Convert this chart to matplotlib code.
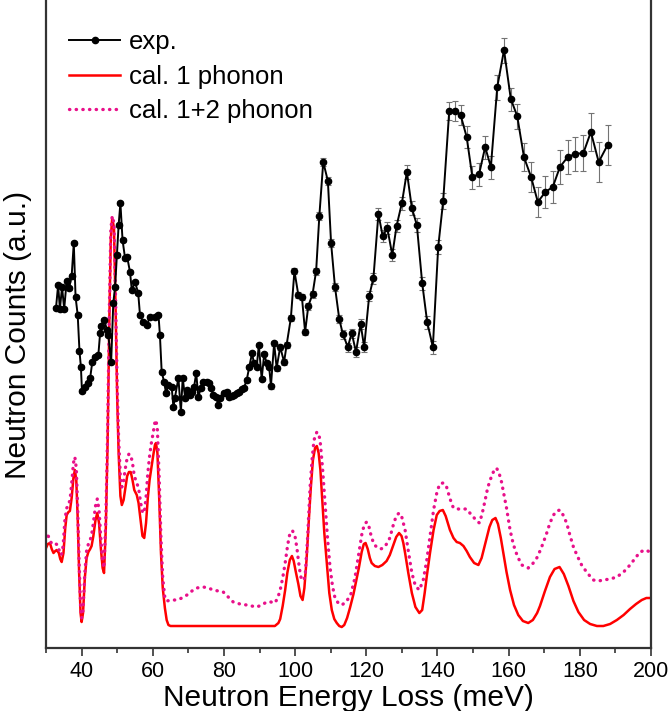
import numpy as np
import matplotlib.pyplot as plt
from matplotlib.ticker import MultipleLocator
from matplotlib.lines import Line2D

plt.rcParams['font.family'] = ['Liberation Sans', 'DejaVu Sans']

### experimental data (energy in meV, counts in a.u.)
exp_E = [32.8, 33.4, 33.9, 34.5, 35.1, 35.8, 36.5, 37.2, 37.8, 38.3,
         38.9, 39.4, 39.8, 40.1, 41.0, 41.7, 42.4, 43.0, 43.8, 44.7,
         45.2, 45.5, 46.4, 47.1, 47.5, 48.3, 48.9, 49.4, 49.9, 50.4,
         50.9, 51.5, 52.2, 52.8, 53.6, 54.1, 55.0, 55.9, 56.4, 57.3,
         58.3, 59.2, 60.6, 61.6, 62.0, 62.5, 63.2, 63.7, 64.4, 65.3,
         65.8, 66.2, 67.2, 67.9, 68.4, 69.1, 69.7, 70.5, 71.1, 71.6,
         72.2, 72.8, 73.5, 74.2, 75.2, 75.8, 76.4, 77.0, 77.8, 78.4,
         78.9, 80.0, 80.8, 81.5, 82.2, 82.8, 83.6, 84.3, 85.0, 85.6,
         86.4, 87.1, 87.9, 88.4, 89.2, 89.8, 90.6, 91.3, 92.0, 92.7,
         93.2, 94.1, 94.8, 95.8, 96.9, 97.6, 98.8, 99.8, 100.9, 101.9,
         102.8, 103.7, 104.9, 105.9, 106.8, 107.9, 109.2, 110.1, 111.2, 112.4,
         113.4, 114.8, 115.9, 117.1, 118.4, 119.4, 120.8, 122.0, 123.4, 124.6,
         125.9, 127.3, 128.5, 130.0, 131.4, 132.8, 134.2, 135.7, 137.1, 138.7,
         140.2, 141.6, 143.3, 144.9, 146.5, 148.2, 149.8, 151.7, 153.4, 155.0,
         156.8, 158.7, 160.6, 162.4, 164.3, 166.3, 168.2, 170.3, 172.4, 174.4,
         176.6, 178.7, 181.0, 183.1, 185.3, 187.8]
exp_y = [340, 363, 339, 361, 339, 367, 360, 372, 405, 351,
         333, 297, 281, 257, 261, 265, 270, 286, 291, 293,
         315, 322, 328, 318, 313, 286, 345, 361, 393, 423,
         445, 408, 390, 391, 376, 358, 366, 355, 333, 326,
         323, 331, 331, 333, 313, 276, 266, 255, 263, 261,
         241, 250, 270, 236, 270, 250, 258, 253, 256, 261,
         275, 251, 260, 266, 266, 265, 260, 253, 251, 243,
         250, 255, 256, 251, 252, 253, 255, 256, 259, 260,
         268, 281, 295, 285, 281, 303, 269, 294, 285, 281,
         262, 305, 280, 301, 286, 303, 330, 377, 353, 351,
         316, 342, 354, 377, 432, 486, 467, 405, 361, 329,
         314, 301, 315, 296, 324, 301, 352, 370, 434, 412,
         420, 393, 422, 445, 476, 440, 423, 365, 326, 301,
         401, 447, 537, 537, 533, 511, 471, 474, 501, 481,
         561, 598, 549, 532, 491, 471, 446, 456, 461, 481,
         491, 494, 495, 516, 486, 503]
exp_err = [2, 2, 2, 2, 2, 2, 2, 2, 2, 2,
           2, 2, 2, 2, 2, 2, 2, 2, 2, 2,
           2, 2, 2, 2, 2, 2, 2, 2, 2, 2,
           2, 2, 2, 2, 2, 2, 2, 2, 2, 2,
           2, 2, 2, 2, 2, 2, 2, 2, 2, 2,
           2, 2, 2, 2, 2, 2, 2, 2, 2, 2,
           2, 2, 2, 2, 2, 2, 2, 2, 2, 2,
           2, 2, 2, 2, 2, 2, 2, 2, 2, 2,
           2, 2, 2, 2, 2, 2, 2, 2, 2, 2,
           2.5, 2.5, 2.5, 2.5, 3, 3, 3, 3, 3, 3,
           3, 3.5, 3.5, 3.5, 4, 4, 4, 4, 4, 4,
           4.5, 4.5, 4.5, 5, 5, 5, 5, 5.5, 6, 6,
           6, 6, 6, 6.5, 7, 7, 7, 6.5, 6.5, 6.5,
           7, 8, 9, 10, 10, 11, 11.5, 11.5, 11.5, 11.5,
           12.5, 12.5, 11.5, 12.5, 14, 15, 15, 16, 16, 17,
           17, 17, 18, 19, 20, 20]

### calculated, 1 phonon
cal1_E = [30.0, 30.5, 31.1, 31.6, 32.1, 32.6, 33.0, 33.6, 34.0, 34.4,
          34.9, 35.4, 35.8, 36.3, 36.7, 37.2, 37.7, 38.1, 38.5, 38.9,
          39.3, 39.7, 40.0, 40.4, 40.9, 41.4, 41.9, 42.4, 42.8, 43.3,
          43.9, 44.4, 44.9, 45.4, 45.9, 46.3, 46.8, 47.3, 47.8, 48.2,
          48.6, 49.1, 49.6, 50.0, 50.4, 50.9, 51.3, 51.8, 52.3, 52.8,
          53.3, 53.8, 54.3, 54.8, 55.5, 56.0, 56.6, 57.1, 57.6, 58.1,
          58.6, 59.1, 59.6, 60.1, 60.6, 60.9, 61.3, 61.8, 62.3, 62.8,
          63.4, 63.9, 64.4, 65.0, 94.3, 95.3, 95.8, 96.5, 97.2, 97.8,
          98.5, 99.1, 99.6, 100.2, 100.9, 101.5, 102.1, 102.6, 103.2, 103.8,
          104.4, 105.0, 105.6, 106.1, 106.6, 107.1, 107.6, 108.2, 108.9, 109.6,
          110.3, 111.0, 111.7, 112.4, 113.1, 113.8, 114.6, 115.4, 116.4, 117.2,
          117.9, 118.7, 119.3, 119.8, 120.4, 121.0, 121.5, 122.4, 123.4, 124.5,
          125.7, 126.6, 127.6, 128.4, 129.2, 129.9, 130.4, 130.9, 131.8, 132.8,
          133.8, 134.9, 135.7, 136.4, 137.0, 137.9, 138.9, 139.8, 140.6, 141.5,
          142.3, 143.0, 143.5, 144.5, 145.4, 146.3, 147.3, 148.2, 149.1, 150.3,
          151.5, 152.4, 153.1, 153.8, 154.6, 155.4, 156.3, 157.0, 157.8, 158.5,
          159.4, 160.4, 161.5, 162.7, 164.0, 165.5, 166.8, 168.0, 168.8, 170.2,
          171.6, 172.9, 174.3, 175.5, 176.8, 178.2, 179.6, 181.2, 182.9, 184.8,
          186.6, 188.5, 190.4, 192.3, 194.1, 195.8, 197.4, 198.7, 200.0]
cal1_y = [100, 104, 105, 99, 95, 97, 98, 95, 89, 86,
          95, 120, 133, 136, 137, 150, 170, 178, 168, 130,
          75, 35, 26, 35, 70, 90, 96, 99, 102, 112,
          128, 135, 125, 100, 80, 75, 120, 205, 330, 410,
          430, 420, 330, 250, 195, 152, 143, 148, 160, 172,
          176, 176, 168, 158, 153, 145, 127, 112, 110, 125,
          150, 168, 180, 192, 203, 205, 195, 150, 95, 60,
          40, 28, 23, 22, 22, 25, 29, 42, 58, 75,
          88, 92, 87, 76, 64, 52, 48, 60, 88, 125,
          160, 188, 200, 202, 195, 178, 150, 115, 85, 55,
          38, 29, 25, 22, 21, 23, 30, 40, 54, 68,
          80, 96, 104, 105, 99, 90, 85, 82, 81, 83,
          87, 93, 103, 111, 115, 112, 105, 95, 75, 55,
          41, 35, 38, 55, 72, 95, 118, 133, 137, 138,
          132, 124, 118, 110, 106, 105, 102, 97, 91, 85,
          83, 90, 100, 110, 121, 128, 130, 124, 110, 95,
          76, 58, 43, 33, 27, 25, 28, 35, 42, 57,
          71, 79, 81, 74, 62, 47, 36, 28, 24, 22,
          22, 24, 28, 33, 39, 44, 48, 50, 50]

### calculated, 1+2 phonon
cal12_E = [30.0, 30.4, 30.8, 31.3, 31.8, 32.3, 32.8, 33.3, 33.8, 34.3,
           34.8, 35.3, 35.8, 36.3, 36.8, 37.3, 37.7, 38.1, 38.5, 38.9,
           39.3, 39.7, 40.0, 40.4, 40.9, 41.4, 41.9, 42.4, 42.8, 43.3,
           43.9, 44.4, 44.9, 45.4, 45.9, 46.3, 46.8, 47.3, 47.8, 48.2,
           48.6, 49.1, 49.6, 50.0, 50.4, 50.9, 51.3, 51.8, 52.3, 52.8,
           53.3, 53.8, 54.3, 54.8, 55.5, 56.0, 56.6, 57.1, 57.6, 58.1,
           58.6, 59.1, 59.6, 60.1, 60.6, 60.9, 61.3, 61.8, 62.3, 62.8,
           63.4, 63.9, 65.3, 66.7, 68.2, 69.6, 71.0, 72.3, 74.2, 75.6,
           77.0, 78.4, 79.8, 81.2, 82.6, 84.5, 86.4, 87.8, 89.2, 90.6,
           92.0, 93.2, 94.3, 95.1, 95.8, 96.5, 97.2, 97.9, 98.6, 99.3,
           100.0, 100.5, 100.9, 101.4, 101.8, 102.3, 102.8, 103.5, 104.2, 104.8,
           105.3, 106.1, 106.6, 107.0, 107.7, 108.4, 109.1, 109.8, 110.5, 111.2,
           112.1, 113.1, 114.3, 115.6, 116.8, 117.9, 118.8, 119.5, 120.1, 120.7,
           121.3, 122.1, 122.9, 124.0, 124.8, 125.7, 126.6, 127.5, 128.4, 129.2,
           129.9, 130.4, 130.9, 131.8, 132.8, 133.8, 134.9, 136.0, 137.0, 137.9,
           138.9, 139.8, 140.6, 141.5, 142.4, 143.3, 144.0, 144.5, 145.9, 147.0,
           148.2, 149.1, 150.1, 151.0, 151.8, 152.6, 153.4, 154.1, 154.8, 155.7,
           156.6, 157.3, 158.0, 158.7, 159.4, 160.4, 161.1, 161.8, 162.7, 163.7,
           165.5, 166.7, 167.9, 168.8, 169.7, 170.7, 171.6, 172.6, 173.5, 174.4,
           175.3, 176.3, 177.2, 178.2, 179.3, 180.5, 182.1, 183.8, 185.2, 186.6,
           188.5, 190.4, 192.3, 194.1, 195.6, 196.9, 198.4, 199.8]
cal12_y = [112, 115, 110, 106, 104, 103, 104, 103, 96, 93,
           102, 128, 140, 142, 150, 168, 185, 191, 180, 140,
           85, 42, 30, 38, 75, 97, 104, 108, 113, 125,
           142, 149, 138, 110, 86, 80, 128, 215, 340, 418,
           432, 425, 340, 262, 210, 170, 161, 167, 180, 190,
           194, 193, 185, 172, 165, 160, 145, 136, 135, 150,
           175, 192, 205, 215, 226, 228, 218, 170, 110, 70,
           50, 47, 48, 48, 50, 53, 57, 60, 61, 60,
           58, 57, 56, 51, 46, 44, 43, 42, 41, 43,
           46, 46, 45, 50, 58, 70, 85, 103, 116, 117,
           111, 100, 88, 75, 68, 68, 71, 110, 161, 190,
           208, 216, 214, 208, 180, 145, 110, 81, 62, 50,
           45, 43, 46, 53, 70, 95, 115, 124, 126, 122,
           113, 104, 101, 99, 100, 104, 110, 122, 132, 135,
           132, 125, 118, 97, 75, 62, 58, 68, 88, 112,
           138, 155, 164, 165, 163, 152, 144, 140, 139, 139,
           139, 135, 131, 127, 125, 135, 148, 160, 168, 176,
           180, 175, 166, 153, 140, 118, 107, 98, 90, 83,
           80, 84, 90, 97, 105, 115, 125, 133, 137, 138,
           133, 125, 113, 101, 92, 83, 75, 68, 67, 68,
           69, 71, 76, 83, 90, 96, 98, 96]

### plot
fig = plt.figure(figsize=(6.69, 7.11), dpi=100)
ax = fig.add_axes([0.0688, 0.0886, 0.9043, 0.9564])

red_line, = ax.plot(cal1_E, cal1_y, '-', color='#ff0000', lw=1.8)
mag_line, = ax.plot(cal12_E, cal12_y, color='#e8108a', lw=2.4,
                    linestyle=(0, (0.1, 1.9)), dash_capstyle='round')
ax.errorbar(exp_E, exp_y, yerr=exp_err, fmt='-o', color='k', ms=4.5, lw=1.4,
            ecolor='0.45', elinewidth=0.8, capsize=2, capthick=0.8)

ax.set_xlim(30, 200)
ax.set_ylim(0, 680)
ax.xaxis.set_major_locator(MultipleLocator(20))
ax.xaxis.set_minor_locator(MultipleLocator(10))
ax.tick_params(axis='x', which='major', direction='out', length=6, width=1.2,
               labelsize=15.5, pad=3, colors='#333333', labelcolor='k')
ax.tick_params(axis='x', which='minor', direction='out', length=3.5, width=1.2,
               colors='#333333')
ax.set_yticks([])
ax.spines['top'].set_visible(False)
for s in ['left', 'right', 'bottom']:
    ax.spines[s].set_linewidth(1.6)
    ax.spines[s].set_color('#333333')

ax.set_xlabel('Neutron Energy Loss (meV)', fontsize=21.5, labelpad=2)
ax.set_ylabel('Neutron Counts (a.u.)', fontsize=21.5)
ax.yaxis.set_label_coords(-0.024, 0.46)

# legend: exp. shown as line + marker only
exp_handle = Line2D([], [], color='k', lw=1.4, marker='o', ms=4.5)
ax.legend([exp_handle, red_line, mag_line],
          ['exp.', 'cal. 1 phonon', 'cal. 1+2 phonon'],
          loc='upper left', bbox_to_anchor=(0.103, 0.958),
          bbox_transform=fig.transFigure, frameon=False, fontsize=18.5,
          handlelength=2.0, handletextpad=0.35, labelspacing=0.42,
          borderaxespad=0, borderpad=0, markerfirst=True)

fig.savefig('out.png', dpi=100)
